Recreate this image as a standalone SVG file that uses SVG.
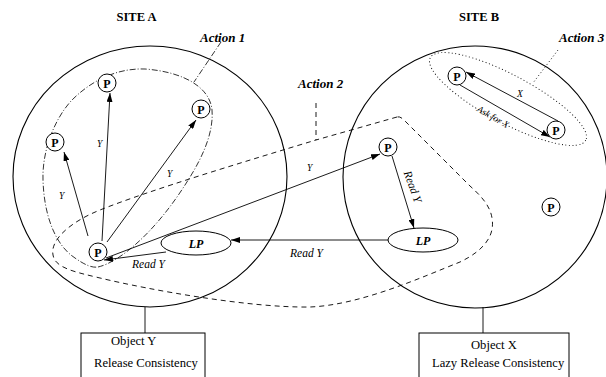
<svg xmlns="http://www.w3.org/2000/svg" width="606" height="377" viewBox="0 0 606 377">
<defs>
<marker id="ah" markerUnits="userSpaceOnUse" markerWidth="9" markerHeight="6" refX="9" refY="3" orient="auto">
<path d="M0,0 L9,3 L0,6 z" fill="#000"/>
</marker>
<style>
.site{fill:none;stroke:#000;stroke-width:1.1}
.pc{fill:#fff;stroke:#000;stroke-width:1}
.pt{font-family:"Liberation Serif",serif;font-weight:bold;font-size:12px;text-anchor:middle}
.lpt{font-family:"Liberation Serif",serif;font-weight:bold;font-style:italic;font-size:12px;text-anchor:middle}
.head{font-family:"Liberation Serif",serif;font-weight:bold;font-size:12.5px;text-anchor:middle}
.act{font-family:"Liberation Serif",serif;font-weight:bold;font-style:italic;font-size:13px}
.lab{font-family:"Liberation Serif",serif;font-style:italic;font-size:11.5px}
.sm{font-family:"Liberation Serif",serif;font-style:italic;font-size:9.5px}
.box{font-family:"Liberation Serif",serif;font-size:12.6px}
.ln{stroke:#000;stroke-width:0.9;fill:none}
.arr{stroke:#000;stroke-width:0.9;fill:none;marker-end:url(#ah)}
.dd{fill:none;stroke:#000;stroke-width:0.8;stroke-dasharray:6,2,1,2}
.ds{fill:none;stroke:#000;stroke-width:0.9;stroke-dasharray:5,4}
.dt{fill:none;stroke:#000;stroke-width:0.9;stroke-dasharray:1,2.5}
</style>
</defs>
<rect width="606" height="377" fill="#fff"/>

<g id="siteA">
<ellipse class="site" cx="150" cy="176.5" rx="137" ry="130.5"/>
<text class="head" x="136.5" y="21">SITE A</text>
</g>
<g id="siteB">
<ellipse class="site" cx="475" cy="177" rx="132" ry="131"/>
<text class="head" x="479" y="21">SITE B</text>
</g>

<g id="action1">
<path class="dd" d="M98,267 C120,262 155,232 185,185 C200,162 214,135 212,110 C210,88 185,72 145,69 C115,68 90,82 72,100 C55,118 42,150 43,180 C44,215 55,245 75,258 C85,265 92,268 98,267 Z"/>
<path class="dd" d="M221,42 L194,82"/>
<text class="act" x="200" y="42">Action 1</text>
</g>
<g id="action2">
<path class="ds" d="M397,117 L316,140 C250,160 150,190 100,210 C70,222 50,240 53,255 C55,268 75,272 100,278 C150,290 250,308 310,307 C360,305 420,278 460,262 C485,250 495,235 492,218 C490,205 480,195 470,186 L404,120 Q400,116 397,117 Z"/>
<path class="ds" d="M316,103 L316,140"/>
<text class="act" x="298" y="88">Action 2</text>
</g>
<g id="action3">
<ellipse class="dt" cx="508" cy="99" rx="88" ry="24" transform="rotate(28 508 99)"/>
<path class="dt" d="M558,50 L533,83"/>
<text class="act" x="559" y="42">Action 3</text>
</g>

<g id="connectors">
<path class="arr" d="M88,236 L64,152"/>
<path class="arr" d="M102,241 L110,93"/>
<path class="arr" d="M107,242 L196,120"/>
<path class="arr" d="M106,258 L380,154"/>
<path class="arr" d="M166,252 L104,260"/>
<path class="arr" d="M389,240 L231,240"/>
<path class="arr" d="M392,156 L414,228"/>
<path class="arr" d="M558,121 L466,72"/>
<path class="arr" d="M460,85 L550,137"/>
<path class="ln" d="M145,307 L145,333"/>
<path class="ln" d="M483,307 L483,333"/>
<text class="sm" x="59" y="199">Y</text>
<text class="sm" x="97" y="147">Y</text>
<text class="sm" x="167" y="177">Y</text>
<text class="sm" x="307" y="171">Y</text>
<text class="sm" x="517" y="97">X</text>
<text class="sm" x="493" y="120" text-anchor="middle" transform="rotate(30 493 117)">Ask for X</text>
<text class="lab" x="132" y="268">Read Y</text>
<text class="lab" x="290" y="257">Read Y</text>
<text class="lab" x="412" y="190" text-anchor="middle" transform="rotate(70 412 187)">Read Y</text>
</g>

<g id="pA1"><circle class="pc" cx="55" cy="142" r="9"/><text class="pt" x="55" y="146.5">P</text></g>
<g id="pA2"><circle class="pc" cx="107" cy="83" r="9"/><text class="pt" x="107" y="87.5">P</text></g>
<g id="pA3"><circle class="pc" cx="201" cy="109" r="9"/><text class="pt" x="201" y="113.5">P</text></g>
<g id="pA4"><circle class="pc" cx="98" cy="252" r="9"/><text class="pt" x="98" y="256.5">P</text></g>
<g id="lpA"><ellipse class="pc" cx="196" cy="243" rx="35" ry="12"/><text class="lpt" x="196" y="247.5">LP</text></g>

<g id="pB1"><circle class="pc" cx="457" cy="76" r="9"/><text class="pt" x="457" y="80.5">P</text></g>
<g id="pB2"><circle class="pc" cx="556" cy="130" r="9"/><text class="pt" x="556" y="134.5">P</text></g>
<g id="pB3"><circle class="pc" cx="388" cy="147" r="9"/><text class="pt" x="388" y="151.5">P</text></g>
<g id="pB4"><circle class="pc" cx="551" cy="207" r="9"/><text class="pt" x="551" y="211.5">P</text></g>
<g id="lpB"><ellipse class="pc" cx="423" cy="240" rx="35" ry="12"/><text class="lpt" x="423" y="244.5">LP</text></g>

<g id="objY">
<rect x="81" y="333" width="124" height="50" fill="#fff" stroke="#000" stroke-width="1"/>
<text class="box" x="111" y="345">Object Y</text>
<text class="box" x="94" y="366.5">Release Consistency</text>
</g>
<g id="objX">
<rect x="419" y="333" width="150" height="50" fill="#fff" stroke="#000" stroke-width="1"/>
<text class="box" x="471" y="349">Object X</text>
<text class="box" x="432" y="366.5">Lazy Release Consistency</text>
</g>
</svg>
